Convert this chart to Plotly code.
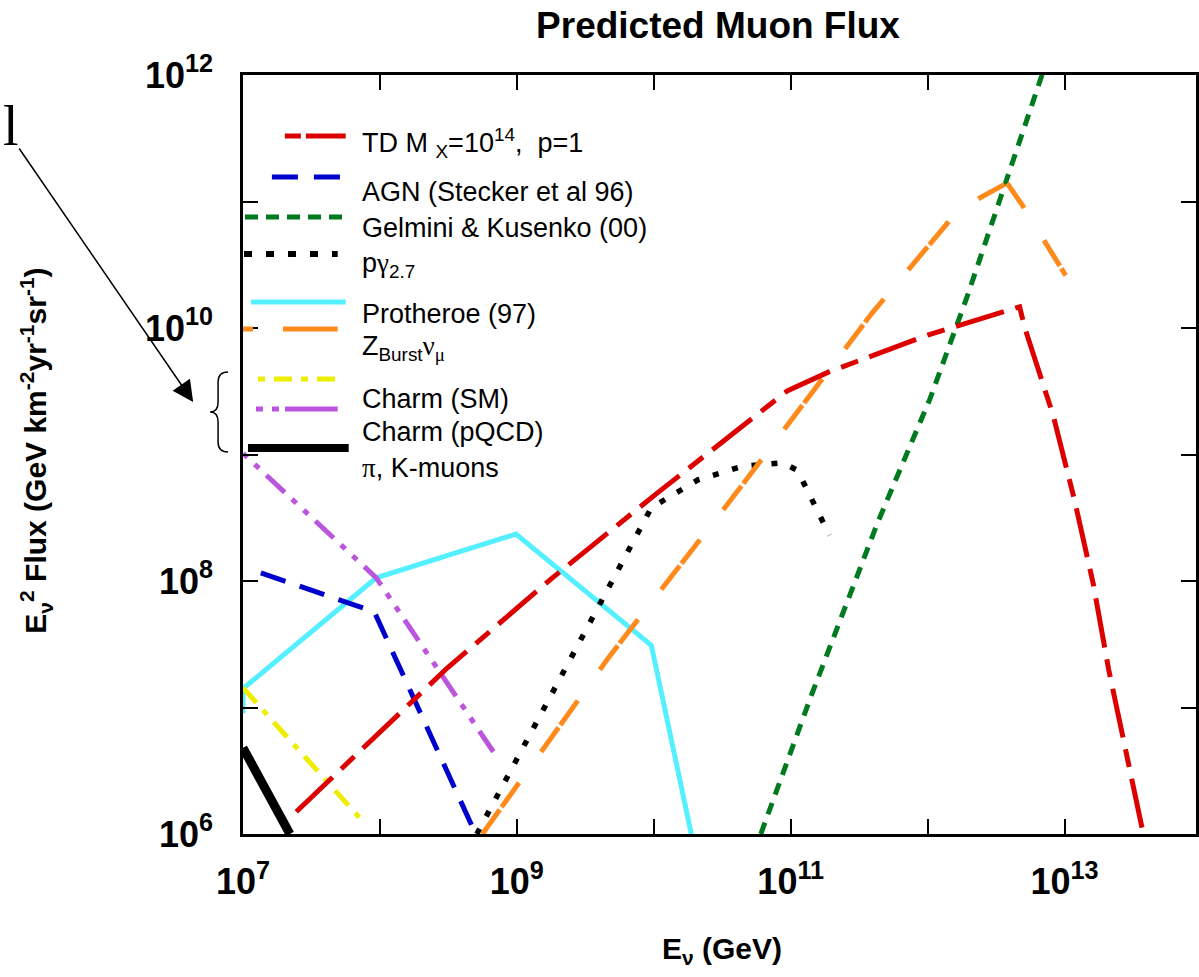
import plotly.graph_objects as go

# ---------------- data (E in GeV, E^2 flux in GeV km^-2 yr^-1 sr^-1) ----------------
td_E = [2.45e7, 3.1e8, 1.8e9, 1.07e10, 9.5e10, 1.9e11, 1.0e12, 4.7e12, 5.1e12, 8.3e12, 1.18e13, 1.62e13, 2.1e13, 3.76e13]
td_F = [1.5e6, 2.05e7, 1.05e8, 5.0e8, 3.2e9, 4.5e9, 8.8e9, 1.47e10, 1.02e10, 2.0e9, 4.4e8, 9.5e7, 2.0e7, 1.0e6]

agn_E = [1.35e7, 9.1e7, 5.0e8]
agn_F = [1.16e8, 5.7e7, 1.0e6]

gk_E = [6.05e10, 1.4e11, 4.3e11, 1.04e12, 1.94e12, 3.78e12, 6.8e12, 7.6e12]
gk_F = [1.0e6, 1.21e7, 2.87e8, 2.75e9, 1.76e10, 1.48e11, 1.0e12, 1.4e12]

pg_E = [5.1e8, 9.6e9, 2.1e10, 4.5e10, 8.75e10, 1.12e11, 1.92e11]
pg_F = [1.0e6, 3.8e8, 6.3e8, 8.1e8, 8.6e8, 7.5e8, 2.3e8]

pro_E = [1.0e7, 1.0e7, 9.4e7, 9.85e8, 9.6e9, 1.88e10]
pro_F = [9.0e6, 1.41e7, 1.06e8, 2.35e8, 3.1e7, 1.0e6]

zb_E = [5.6e8, 4.7e9, 4.3e10, 3.9e11, 1.7e12, 3.8e12, 4.9e12, 1.02e13]
zb_F = [1.0e6, 2.5e7, 5.5e8, 1.3e10, 8.7e10, 1.4e11, 9.4e10, 2.6e10]

csm_E = [1.0e7, 7.7e7]
csm_F = [1.43e7, 1.22e6]

cqcd_E = [1.0e7, 9.4e7, 7.0e8]
cqcd_F = [1.02e9, 1.06e8, 4.2e6]

pik_E = [1.0e7, 2.2e7]
pik_F = [4.8e6, 1.0e6]

x_tick_vals = [1e7, 1e8, 1e9, 1e10, 1e11, 1e12, 1e13]
x_tick_text = ["10<sup>7</sup>", "", "10<sup>9</sup>", "", "10<sup>11</sup>", "", "10<sup>13</sup>"]
y_tick_vals = [1e6, 1e7, 1e8, 1e9, 1e10, 1e11, 1e12]
y_tick_text = ["10<sup>6</sup>", "", "10<sup>8</sup>", "", "10<sup>10</sup>", "", "10<sup>12</sup>"]

legend_labels = [
    "TD M <sub>X</sub>=10<sup>14</sup>,  p=1",
    "AGN (Stecker et al 96)",
    "Gelmini & Kusenko (00)",
    "p<span style='font-family:Liberation Serif'>γ</span><sub>2.7</sub>",
    "Protheroe (97)",
    "Z<sub>Burst</sub><span style='font-family:Liberation Serif'>ν</span><sub><span style='font-family:Liberation Serif'>μ</span></sub>",
    "Charm (SM)",
    "Charm (pQCD)",
    "<span style='font-family:Liberation Serif'>π</span>, K-muons",
]

# ---------------- styles ----------------
RED, BLUE, GREEN, CYAN = "#DD0000", "#0000CC", "#007A1E", "#55F0FF"
ORANGE, YELLOW, PURPLE, BLACK = "#FF8A1C", "#EEEE00", "#BB55DD", "#000000"
FONT = "Liberation Sans, Arial, sans-serif"

W, H = 1199, 977
L, T, R, B = 243, 75, 1199, 834


def pxx(x):
    return (x - L) / (R - L)


def pyy(y):
    return (B - y) / (B - T)


fig = go.Figure()


def add(xs, ys, color, width, dash):
    fig.add_trace(go.Scatter(x=xs, y=ys, mode="lines",
                             line=dict(color=color, width=width, dash=dash),
                             showlegend=False, hoverinfo="skip"))


add(pro_E, pro_F, CYAN, 5, "solid")
add(agn_E, agn_F, BLUE, 5, "26px,15px")
add(gk_E, gk_F, GREEN, 5, "12px,9px")
add(pg_E, pg_F, BLACK, 5.5, "6px,14px")
add(zb_E, zb_F, ORANGE, 5, "30px,3px,30px,38px")
add(csm_E, csm_F, YELLOW, 5, "20px,10px,6px,10px")
add(cqcd_E, cqcd_F, PURPLE, 5, "6px,10px,6px,10px,25px,10px")
add(pik_E, pik_F, BLACK, 9, "solid")
add(td_E, td_F, RED, 5, "50px,12px,18px,12px")

# ---------------- hand-drawn legend ----------------
leg_lines = [  # x0, x1, y (pixels), color, width, dash
    (285, 346, 136, RED, 5, "16px,5px,45px"),
    (272, 341, 177, BLUE, 5, "26px,16px"),
    (245, 343, 217, GREEN, 5, "13px,8px"),
    (244, 338, 254, BLACK, 6, "8px,14px"),
    (251, 346, 302, CYAN, 5, "solid"),
    (243, 338, 329, ORANGE, 5, "10px,30px,60px"),
    (258, 336, 379, YELLOW, 5, "7px,9px,18px,9px"),
    (256, 338, 409, PURPLE, 5, "7px,9px,7px,6px,60px"),
    (248, 349, 448, BLACK, 8, "solid"),
]
shapes = []
for x0, x1, y, c, w, d in leg_lines:
    shapes.append(dict(type="line", xref="paper", yref="paper",
                       x0=pxx(x0), x1=pxx(x1), y0=pyy(y), y1=pyy(y),
                       line=dict(color=c, width=w, dash=d)))

leg_text_y = [143, 192, 228, 265, 314, 348, 399, 432, 468]
annotations = []
for lab, y in zip(legend_labels, leg_text_y):
    annotations.append(dict(text=lab, xref="paper", yref="paper", x=pxx(360), y=pyy(y),
                            xanchor="left", yanchor="middle", showarrow=False,
                            font=dict(family=FONT, size=27, color="black")))

# brace
def bp(x, y):
    return f"{pxx(x):.5f},{pyy(y):.5f}"

brace = ("M " + bp(228, 372) + " Q " + bp(218, 372) + " " + bp(218, 382) +
         " L " + bp(218, 402) + " Q " + bp(218, 412) + " " + bp(210, 412) +
         " Q " + bp(218, 412) + " " + bp(218, 422) + " L " + bp(218, 442) +
         " Q " + bp(218, 452) + " " + bp(228, 452))
shapes.append(dict(type="path", xref="paper", yref="paper", path=brace,
                   line=dict(color="black", width=1.5)))

# arrow
annotations.append(dict(text="", xref="paper", yref="paper", x=pxx(193), y=pyy(402),
                        ax=18 - 193, ay=147 - 402, axref="pixel", ayref="pixel",
                        showarrow=True, arrowhead=2, arrowsize=2.8, arrowwidth=1.5,
                        arrowcolor="black"))
# partial bracket glyph at the left edge
annotations.append(dict(text="l", xref="paper", yref="paper", x=pxx(0), y=pyy(126),
                        xanchor="left", yanchor="middle", showarrow=False,
                        font=dict(family="Liberation Serif", size=56, color="black")))

# axis titles
annotations.append(dict(text="E<sub>ν</sub><sup>2</sup> Flux (GeV km<sup>-2</sup>yr<sup>-1</sup>sr<sup>-1</sup>)",
                        xref="paper", yref="paper", x=pxx(35), y=pyy(451),
                        xanchor="center", yanchor="middle", textangle=-90, showarrow=False,
                        font=dict(family=FONT, size=30, color="black", weight="bold")))
annotations.append(dict(text="E<sub>ν</sub> (GeV)", xref="paper", yref="paper",
                        x=pxx(724), y=pyy(950), xanchor="center", yanchor="middle",
                        showarrow=False,
                        font=dict(family=FONT, size=30, color="black", weight="bold")))

axis_common = dict(type="log", ticks="inside", ticklen=15, tickwidth=2, tickcolor="black",
                   showline=True, linecolor="black", linewidth=2.5, mirror="ticks",
                   showgrid=False, zeroline=False, tickmode="array",
                   tickfont=dict(family=FONT, size=36, color="black", weight="bold"))

fig.update_layout(
    width=W, height=H,
    margin=dict(l=L, r=W - R, t=T, b=H - B),
    paper_bgcolor="white", plot_bgcolor="white",
    title=dict(text="<b>Predicted Muon Flux</b>", x=718 / W, y=1 - 25 / H,
               xref="container", yref="container",
               xanchor="center", yanchor="middle",
               font=dict(family=FONT, size=37, color="black")),
    xaxis=dict(axis_common, range=[7, 13.96], tickvals=x_tick_vals, ticktext=x_tick_text,
               ticklabelstandoff=14),
    yaxis=dict(axis_common, range=[6, 12], tickvals=y_tick_vals, ticktext=y_tick_text,
               ticklabelstandoff=20),
    shapes=shapes,
    annotations=annotations,
    showlegend=False,
)

fig.write_html("out.html")
